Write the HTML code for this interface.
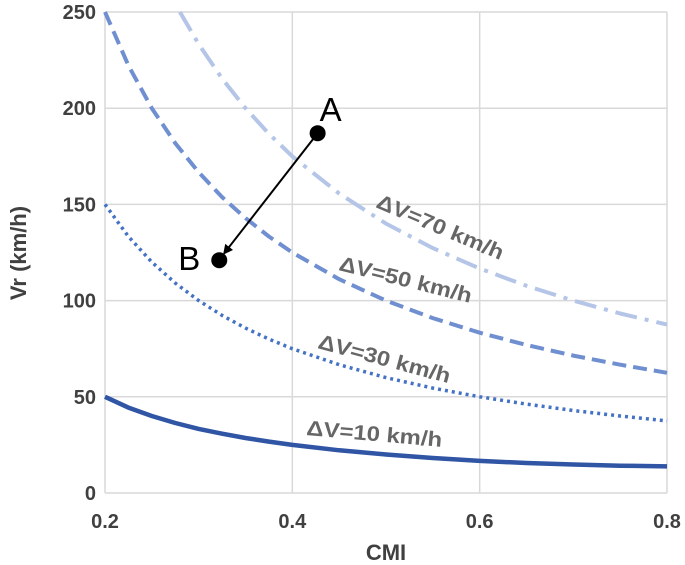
<!DOCTYPE html>
<html><head><meta charset="utf-8"><style>
body{margin:0;background:#fff}
svg{display:block;font-family:"Liberation Sans",sans-serif}
</style></head><body>
<svg id="chart" width="685" height="565"></svg>
<script>
const xTicks=[0.2,0.4,0.6,0.8];
const yTicks=[0,50,100,150,200,250];
const cmi=[0.2,0.225,0.25,0.275,0.3,0.325,0.35,0.375,0.4,0.45,0.5,0.55,0.6,0.65,0.7,0.75,0.8];
const dv10=[50,44.4,40,36.4,33.3,30.8,28.6,26.7,25,22.2,20,18.2,16.7,15.6,14.8,14.2,13.8];
const dv30=[150,133.3,120,109.1,100,92.3,85.7,80,75,66.7,60,54.5,50,46.2,42.9,40,37.5];
const dv50=[250,222.2,200,181.8,166.7,153.8,142.9,133.3,125,111.1,100,90.9,83.3,76.9,71.4,66.7,62.5];
const cmi70=[0.28,0.3,0.325,0.35,0.375,0.4,0.45,0.5,0.55,0.6,0.65,0.7,0.75,0.8];
const dv70=[250,233.3,215.4,200,186.7,175,155.6,140,127.3,116.7,107.7,100,93.3,87.5];
const pointNames=["A","B"];
const pointX=[0.427,0.322];
const pointY=[187,121];

const NS="http://www.w3.org/2000/svg";
const svg=document.getElementById("chart");
const x0=105,x1=667,y0=493,y1=12;
const X=v=>x0+(v-0.2)/(0.8-0.2)*(x1-x0);
const Y=v=>y0-v/250*(y0-y1);
function mk(t,a,p){const e=document.createElementNS(NS,t);for(const k in a)e.setAttribute(k,a[k]);(p||svg).appendChild(e);return e;}

const defs=mk("defs",{});
const mrk=mk("marker",{id:"ah",markerWidth:"10",markerHeight:"10",refX:"8",refY:"5",orient:"auto",markerUnits:"userSpaceOnUse"},defs);
mk("path",{d:"M0,0 L10,5 L0,10 z",fill:"#000"},mrk);

xTicks.forEach(t=>{
  const l=mk("line",{x1:X(t),x2:X(t),y1:y1,y2:y0,stroke:"#d9d9d9","stroke-width":1.5});
  
  
  const tx=mk("text",{x:X(t),y:528,"text-anchor":"middle","font-size":"20","font-weight":"bold",fill:"#404040"});
  tx.textContent=t.toFixed(1);
  
  
});
yTicks.forEach(t=>{
  const l=mk("line",{x1:x0,x2:x1,y1:Y(t),y2:Y(t),stroke:"#d9d9d9","stroke-width":1.5});
  
  
  const tx=mk("text",{x:96,y:Y(t)+7,"text-anchor":"end","font-size":"20","font-weight":"bold",fill:"#404040"});
  tx.textContent=t;
  
  
});

function curve(xs,ys,attrs,name){
  const d=xs.map((v,i)=>(i?"L":"M")+X(v).toFixed(1)+","+Y(ys[i]).toFixed(1)).join(" ");
  const p=mk("path",Object.assign({d:d,fill:"none","stroke-linejoin":"round"},attrs));
  
  
}
curve(cmi70,dv70,{stroke:"#b4c5e7","stroke-width":4,"stroke-dasharray":"22,8,4,8"},"series-dv70");
curve(cmi,dv50,{stroke:"#6f8fd0","stroke-width":4,"stroke-dasharray":"14,7"},"series-dv50");
curve(cmi,dv30,{stroke:"#4472c4","stroke-width":3.5,"stroke-dasharray":"3,4"},"series-dv30");
curve(cmi,dv10,{stroke:"#2f55a4","stroke-width":4.5},"series-dv10");

function lab(txt,x,y,ang,name){
  const t=mk("text",{x:x,y:y,"font-size":"21","font-weight":"bold",fill:"#666",textLength:"136",lengthAdjust:"spacingAndGlyphs",transform:`rotate(${ang} ${x} ${y})`});
  t.textContent=txt;
  
  
}
lab("ΔV=70 km/h",375,207,23,"label-dv70");
lab("ΔV=50 km/h",338,270,14,"label-dv50");
lab("ΔV=30 km/h",317,348,15,"label-dv30");
lab("ΔV=10 km/h",306,435,5,"label-dv10");

const ar=mk("line",{x1:X(pointX[0]),y1:Y(pointY[0]),x2:X(pointX[1])+5,y2:Y(pointY[1])-7,stroke:"#000","stroke-width":2,"marker-end":"url(#ah)"});


pointNames.forEach((n,i)=>{
  const c=mk("circle",{cx:X(pointX[i]),cy:Y(pointY[i]),r:8,fill:"#000"});
  
  
  const t=mk("text",{x:i==0?X(pointX[i])+2:X(pointX[i])-41,y:i==0?Y(pointY[i])-12:Y(pointY[i])+10,"font-size":"33",fill:"#000"});
  t.textContent=n;
  
  
});

const xt=mk("text",{x:386,y:560,"text-anchor":"middle","font-size":"22","font-weight":"bold",fill:"#404040"});
xt.textContent="CMI";


const yt=mk("text",{x:0,y:0,"text-anchor":"middle","font-size":"22","font-weight":"bold",fill:"#404040",transform:"translate(26 253) rotate(-90)"});
yt.textContent="Vr (km/h)";


</script>
</body></html>
